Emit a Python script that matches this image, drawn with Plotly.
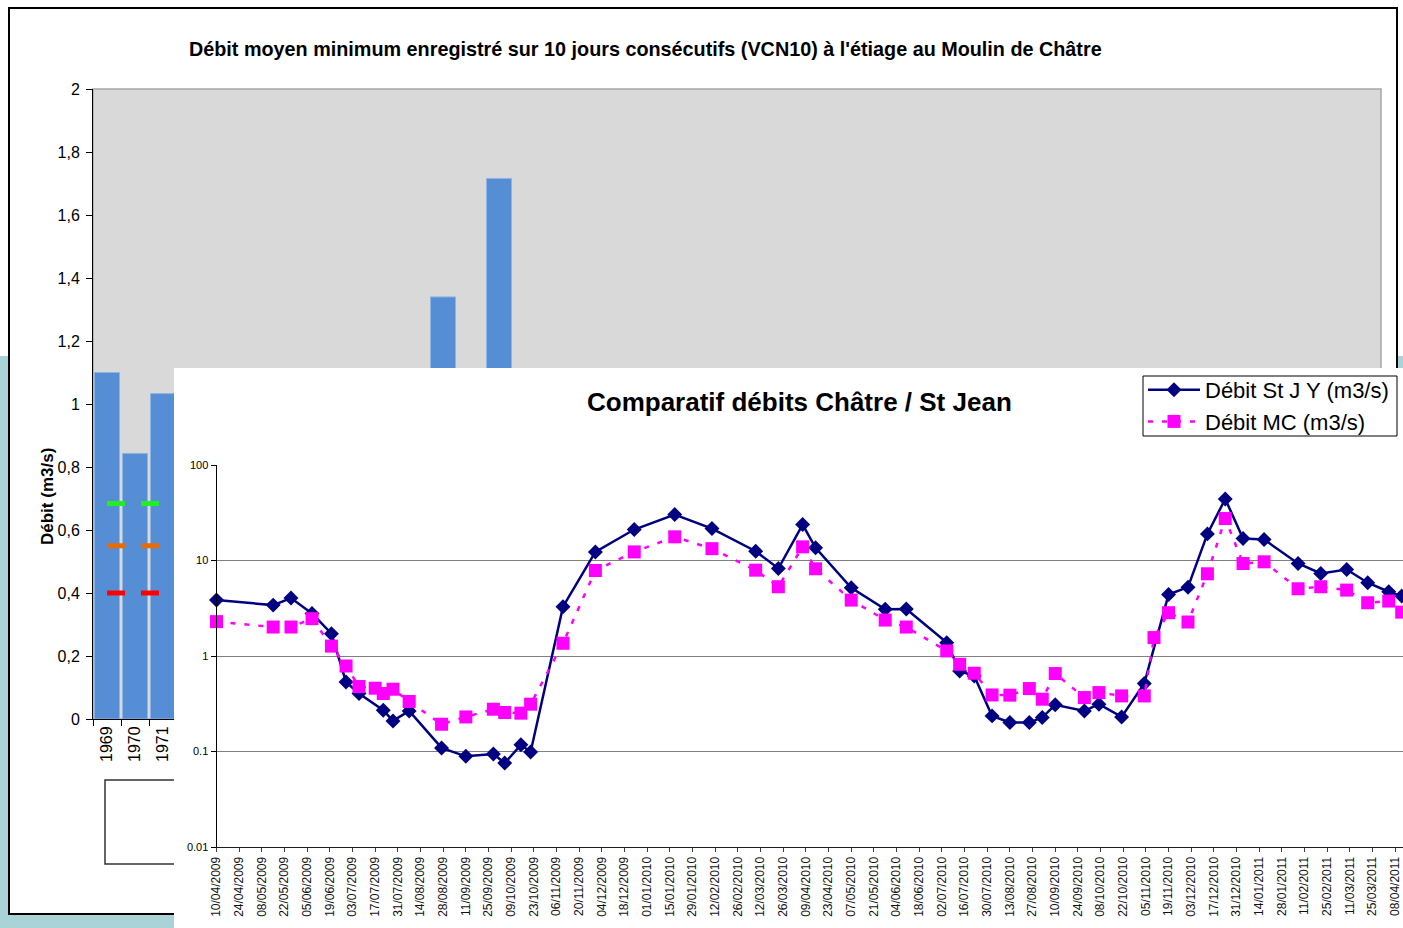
import plotly.graph_objects as go

W, H = 1403, 928

# ---------------- Background chart (VCN10, Moulin de Châtre) ----------------
years = [str(y) for y in range(1969, 2015)]
vcn10 = [1.10, 0.843, 1.033, None, None, None, None, None, None, None, None, None,
         1.34, None, 1.716] + [None] * 31
seuil_vert = 0.684
seuil_orange = 0.55
seuil_rouge = 0.40
bar_ticks = [0, 0.2, 0.4, 0.6, 0.8, 1.0, 1.2, 1.4, 1.6, 1.8, 2.0]
bar_tick_labels = ["0", "0,2", "0,4", "0,6", "0,8", "1", "1,2", "1,4", "1,6", "1,8", "2"]

# ---------------- Foreground chart (Comparatif débits) ----------------
dates = [
    "2009-04-10", "2009-05-15", "2009-05-26", "2009-06-08", "2009-06-20", "2009-06-29",
    "2009-07-07", "2009-07-17", "2009-07-22", "2009-07-28", "2009-08-07", "2009-08-27",
    "2009-09-11", "2009-09-28", "2009-10-05", "2009-10-15", "2009-10-21", "2009-11-10",
    "2009-11-30", "2009-12-24", "2010-01-18", "2010-02-10", "2010-03-09", "2010-03-23",
    "2010-04-07", "2010-04-15", "2010-05-07", "2010-05-28", "2010-06-10", "2010-07-05",
    "2010-07-13", "2010-07-22", "2010-08-02", "2010-08-13", "2010-08-25", "2010-09-02",
    "2010-09-10", "2010-09-28", "2010-10-07", "2010-10-21", "2010-11-04", "2010-11-10",
    "2010-11-19", "2010-12-01", "2010-12-13", "2010-12-24", "2011-01-04", "2011-01-17",
    "2011-02-07", "2011-02-21", "2011-03-09", "2011-03-22", "2011-04-04", "2011-04-12",
]
debit_stjy = [
    3.85, 3.41, 4.04, 2.79, 1.71, 0.535,
    0.405, None, 0.271, 0.209, 0.266, 0.109,
    0.089, 0.094, 0.0756, 0.1175, 0.099, 3.28,
    12.3, 21.1, 30.3, 21.6, 12.5, 8.25,
    23.8, 13.6, 5.18, 3.08, 3.1, 1.38,
    0.697, 0.618, 0.236, 0.201, 0.201, 0.227,
    0.308, 0.266, 0.313, 0.23, 0.515, None,
    4.41, 5.26, 19.0, 44.1, 17.0, 16.6,
    9.3, 7.31, 8.05, 5.85, 4.71, 4.24,
]
debit_mc = [
    2.29, 2.01, 2.01, 2.46, 1.27, 0.786,
    0.479, 0.46, 0.405, 0.449, 0.334, 0.193,
    0.23, 0.277, 0.256, 0.252, 0.313, 1.36,
    7.86, 12.3, 17.7, 13.3, 7.92, 5.31,
    13.9, 8.19, 3.85, 2.38, 2.01, 1.13,
    0.819, 0.66, 0.391, 0.389, 0.456, 0.353,
    0.655, 0.367, 0.414, 0.382, 0.382, 1.56,
    2.84, 2.27, 7.26, 27.5, 9.3, 9.69,
    5.06, 5.31, 4.9, 3.61, 3.76, 2.88,
]
log_ticks = [0.01, 0.1, 1, 10, 100]
log_tick_labels = ["0.01", "0.1", "1", "10", "100"]


def px(x):
    return x / W


def py(y):
    return 1 - y / H


FONT = "Arial, Liberation Sans, sans-serif"

fig = go.Figure()

# background bar chart
fig.add_trace(go.Bar(
    x=years, y=vcn10, xaxis="x", yaxis="y", showlegend=False,
    marker=dict(color="#558ED5", line=dict(color="#8DB4E2", width=1)),
))
for val, col in [(seuil_vert, "#22EE22"), (seuil_orange, "#E46C0A"), (seuil_rouge, "#FF0000")]:
    fig.add_trace(go.Scatter(
        x=[years[0], years[-1]], y=[val, val], xaxis="x", yaxis="y",
        mode="lines", showlegend=False,
        line=dict(color=col, width=5, dash="18px,16px"),
    ))

# cover subplot (x2/y2) -> white panel above the background chart
fig.add_trace(go.Scatter(x=[None], y=[None], xaxis="x2", yaxis="y2",
                         showlegend=False, hoverinfo="skip", mode="markers"))

# foreground line chart
fig.add_trace(go.Scatter(
    x=dates, y=debit_stjy, xaxis="x3", yaxis="y3", name="Débit St J Y (m3/s)",
    mode="lines+markers", connectgaps=True, cliponaxis=False,
    line=dict(color="#000080", width=2.5),
    marker=dict(symbol="diamond", size=11.5, color="#000080"),
))
fig.add_trace(go.Scatter(
    x=dates, y=debit_mc, xaxis="x3", yaxis="y3", name="Débit MC (m3/s)",
    mode="lines+markers", connectgaps=True, cliponaxis=False,
    line=dict(color="#FF00FF", width=2.5, dash="5px,9px"),
    marker=dict(symbol="square", size=13, color="#FF00FF"),
))

shapes = [
    # outer teal backdrop
    dict(type="rect", xref="paper", yref="paper", x0=0, x1=1, y0=0, y1=py(356),
         fillcolor="#A9D3D6", line=dict(width=0), layer="below"),
    # background chart frame
    dict(type="rect", xref="paper", yref="paper", x0=px(9), x1=px(1397), y0=py(914), y1=py(8),
         fillcolor="white", line=dict(color="black", width=2), layer="below"),
    # grey plot area
    dict(type="rect", xref="paper", yref="paper", x0=px(93), x1=px(1381), y0=py(719), y1=py(89),
         fillcolor="#D9D9D9", line=dict(color="#A6A6A6", width=1.5), layer="below"),
    # background chart legend box
    dict(type="rect", xref="paper", yref="paper", x0=px(105), x1=px(400), y0=py(864), y1=py(780),
         fillcolor="white", line=dict(color="#333333", width=1.5), layer="below"),
    # foreground legend box
    dict(type="rect", xref="paper", yref="paper", x0=px(1143), x1=px(1397), y0=py(436), y1=py(376),
         fillcolor="white", line=dict(color="black", width=1), layer="above"),
]

annotations = [
    dict(text="<b>Débit moyen minimum enregistré sur 10 jours consécutifs (VCN10) à l'étiage au Moulin de Châtre</b>",
         x=px(645), y=py(49), xref="paper", yref="paper", showarrow=False,
         xanchor="center", yanchor="middle", font=dict(family=FONT, size=19.8, color="black")),
    dict(text="<b>Débit (m3/s)</b>", x=px(47), y=py(497), xref="paper", yref="paper",
         showarrow=False, textangle=-90, xanchor="center", yanchor="middle",
         font=dict(family=FONT, size=17, color="black")),
    dict(text="<b>Comparatif débits Châtre / St Jean</b>", x=px(799), y=py(402),
         xref="paper", yref="paper", showarrow=False, xanchor="center", yanchor="middle",
         font=dict(family=FONT, size=26, color="black")),
]

fig.update_layout(
    template="none",
    width=W, height=H, margin=dict(l=0, r=0, t=0, b=0, pad=0),
    paper_bgcolor="white", plot_bgcolor="white",
    bargap=0.107, shapes=shapes, annotations=annotations,
    font=dict(family=FONT, color="black"),
    showlegend=True,
    legend=dict(x=px(1143), y=py(369), xanchor="left", yanchor="top",
                bgcolor="rgba(0,0,0,0)", borderwidth=0,
                font=dict(family=FONT, size=22, color="black"),
                itemwidth=52, tracegroupgap=0),
    xaxis=dict(domain=[px(93), px(1381)], anchor="y", type="category", automargin=False,
               range=[-0.5, len(years) - 0.5], tickson="boundaries",
               ticks="outside", ticklen=6, tickcolor="black",
               showline=True, linecolor="black", linewidth=1,
               tickangle=-90, tickfont=dict(family=FONT, size=16, color="black"),
               showgrid=False, zeroline=False, fixedrange=True),
    yaxis=dict(domain=[py(719), py(89)], anchor="x", range=[0, 2], automargin=False,
               tickvals=bar_ticks, ticktext=bar_tick_labels, ticklabelstandoff=3,
               ticks="outside", ticklen=6, tickcolor="black",
               showline=True, linecolor="black", linewidth=1,
               tickfont=dict(family=FONT, size=16, color="black"),
               showgrid=False, zeroline=False, fixedrange=True),
    xaxis2=dict(domain=[px(174), 1.0], anchor="y2", range=[0, 1], visible=False,
                automargin=False, fixedrange=True),
    yaxis2=dict(domain=[0.0, py(368)], anchor="x2", range=[0, 1], visible=False,
                automargin=False, fixedrange=True),
    xaxis3=dict(domain=[px(216.5), 1.0], anchor="y3", type="date", automargin=False,
                range=["2009-04-10", "2011-04-12 19:00"],
                tickmode="linear", tick0="2009-04-10", dtick=14 * 86400000,
                tickformat="%d/%m/%Y", tickangle=-90,
                ticks="outside", ticklen=4, tickcolor="#404040",
                showline=True, linecolor="#202020", linewidth=1,
                tickfont=dict(family=FONT, size=12, color="#111111"),
                showgrid=False, zeroline=False, fixedrange=True),
    yaxis3=dict(domain=[py(847), py(465)], anchor="x3", type="log", range=[-2, 2],
                automargin=False,
                tickvals=log_ticks, ticktext=log_tick_labels,
                ticks="outside", ticklen=5, tickcolor="black",
                showline=True, linecolor="black", linewidth=1,
                showgrid=True, gridcolor="#808080", gridwidth=1,
                tickfont=dict(family=FONT, size=11, color="black"),
                zeroline=False, fixedrange=True),
)

fig.write_html(
    "out.html",
    config={"displayModeBar": False},
    post_script="document.body.style.margin='0';document.body.style.overflow='hidden';"
                "document.documentElement.style.overflow='hidden';",
)
